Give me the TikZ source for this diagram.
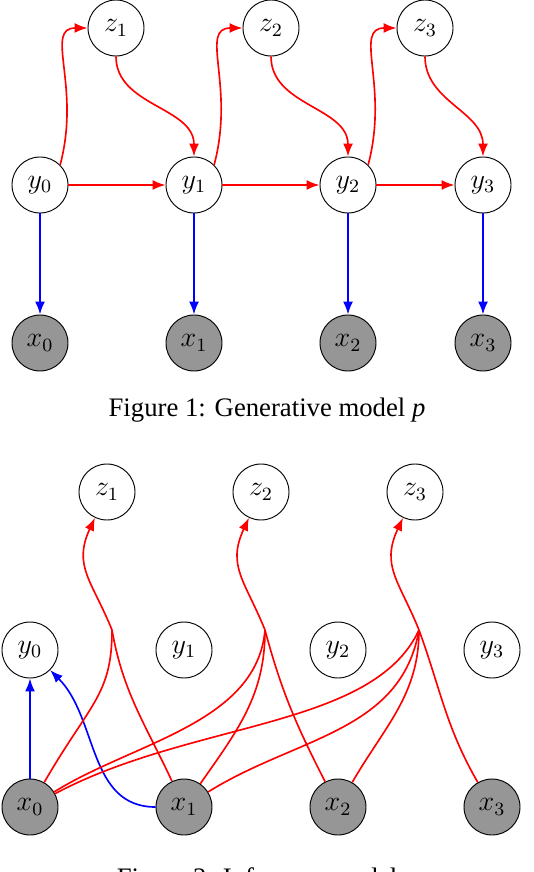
\documentclass[tikz,border=0pt]{standalone}
\usepackage{fontspec}
\newfontfamily\capfont{Liberation Serif}
\usetikzlibrary{arrows.meta}
\definecolor{obsgray}{RGB}{150,150,150}
\begin{document}
\begin{tikzpicture}[var/.style={draw, circle, minimum size=0.84cm,
      inner sep=0pt, font=\large}, obs/.style={var, fill=obsgray},
    caption/.style={anchor=base, font=\capfont\fontsize{11.4}{13}\selectfont},
    link/.style={line width=0.7pt},
    >={Latex[length=5.5pt,width=4.2pt]}]
    \useasboundingbox (0,0) rectangle (8.01,-13.08);
    % generative model
    \begin{scope}[every node/.style={var}]
      \node (z1) at (1.74,-0.42) {$z_1$}; \node (z2) at (4.065,-0.42)
      {$z_2$}; \node (z3) at (6.375,-0.42) {$z_3$};
      \node (y0) at (0.6,-2.775) {$y_0$}; \node (y1) at (2.91,-2.775)
      {$y_1$}; \node (y2) at (5.22,-2.775) {$y_2$}; \node (y3) at
      (7.245,-2.775) {$y_3$};
      \node [obs] (x0) at (0.6,-5.145) {$x_0$}; \node [obs] (x1) at
      (2.91,-5.145) {$x_1$}; \node [obs] (x2) at (5.22,-5.145) {$x_2$};
      \node [obs] (x3) at (7.245,-5.145) {$x_3$};
    \end{scope}
    \begin{scope}[->, link, red]
      \draw (y0) to (y1); \draw (y1) to (y2); \draw (y2) to (y3);
      \draw (y0.45) to [out=75, in=180, out looseness=1.5, in
      looseness=0.8] (z1); \draw (y1.45) to [out=75, in=180, out
      looseness=1.5, in looseness=0.8] (z2); \draw (y2.45) to [out=75,
      in=180, out looseness=1.5, in looseness=0.8] (z3);
      \draw (z1) to [out=-90, in=90] (y1); \draw (z2) to [out=-90,
      in=90] (y2); \draw (z3) to [out=-90, in=90] (y3);
    \end{scope}
    \begin{scope}[->, link, blue]
      \draw (y0) to (x0); \draw (y1) to (x1); \draw (y2) to (x2); \draw
      (y3) to (x3);
    \end{scope}
    \node [caption] (cap1) at (4.005,-6.25) {Figure 1: Generative
      model \textit{p}};

    % inference model
    \begin{scope}[every node/.style={var}]
      \node (z1) at (1.605,-7.38) {$z_1$}; \node (z2) at (3.915,-7.38)
      {$z_2$}; \node (z3) at (6.225,-7.38) {$z_3$};
      \node (y0) at (0.45,-9.75) {$y_0$}; \node (y1) at (2.76,-9.75)
      {$y_1$}; \node (y2) at (5.07,-9.75) {$y_2$}; \node (y3) at
      (7.38,-9.75) {$y_3$};
      \node [obs] (x0) at (0.45,-12.105) {$x_0$}; \node [obs] (x1) at
      (2.76,-12.105) {$x_1$}; \node [obs] (x2) at (5.07,-12.105)
      {$x_2$}; \node [obs] (x3) at (7.38,-12.105) {$x_3$};
    \end{scope}
    \coordinate (j1) at (1.68,-9.45); \coordinate (j2) at
    (3.975,-9.45); \coordinate (j3) at (6.285,-9.45);
    \begin{scope}[->, link, blue]
      \draw (x0) to (y0); \draw (x1) to [out=180, in=-45] (y0);
    \end{scope}
    \begin{scope}[link, red]
      \draw [->] (j1) to [out=112, in=-115, looseness=1.2] (z1); \draw
      [->] (j2) to [out=112, in=-115, looseness=1.2] (z2); \draw [->]
      (j3) to [out=112, in=-115, looseness=1.2] (z3);
      \draw (x0) to [out=60, in=-90, out looseness=1.4] (j1); \draw
      (x1) to [out=115, in=-80] (j1);
      \draw (x0) to [out=32, in=-95, looseness=0.9] (j2); \draw (x1) to
      [out=55, in=-90] (j2); \draw (x2) to [out=117, in=-75] (j2);
      \draw (x0) to [out=28, in=-115, in looseness=0.7] (j3); \draw
      (x1) to [out=32, in=-100] (j3); \draw (x2) to [out=60, in=-90]
      (j3); \draw (x3) to [out=120, in=-70] (j3);
    \end{scope}
    \node [caption] (cap2) at (4.005,-13.3) {Figure 2: Inference
      model \textit{q}};
  \end{tikzpicture}
\end{document}
